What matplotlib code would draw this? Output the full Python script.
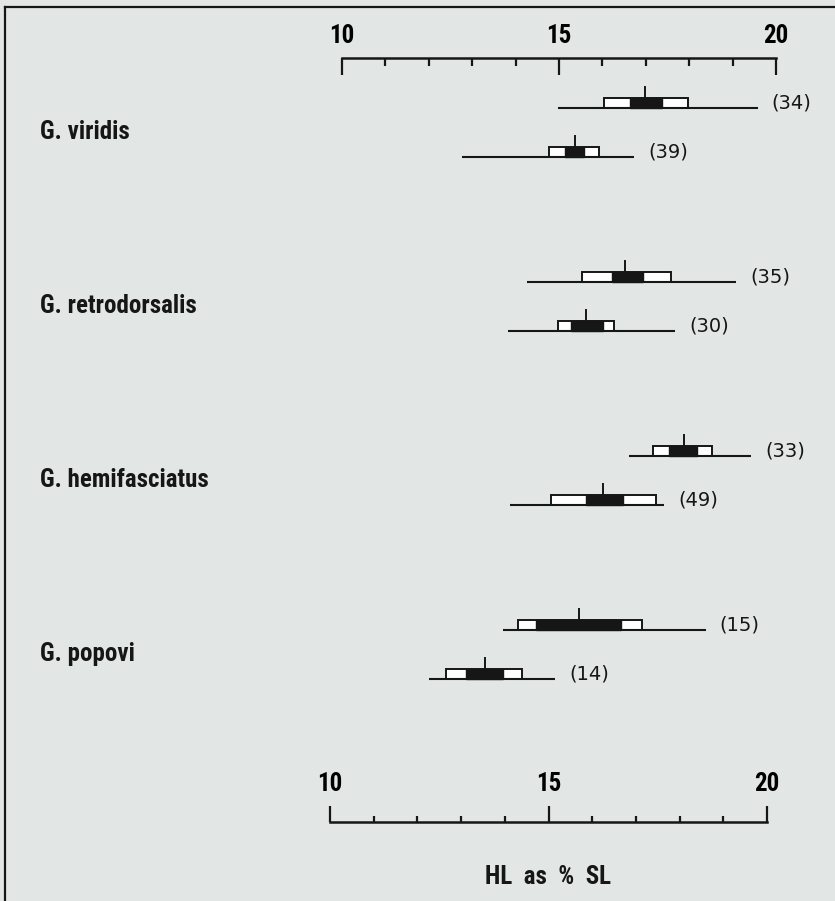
import matplotlib
matplotlib.use("Agg")
import matplotlib.pyplot as plt
from matplotlib import font_manager as fm
from matplotlib.patches import Rectangle
from matplotlib.ticker import MultipleLocator

# data: two samples per species (upper row, lower row)
species = ["G. viridis", "G. retrodorsalis", "G. hemifasciatus", "G. popovi"]
n_fish = [[34, 39], [35, 30], [33, 49], [15, 14]]
range_lo = [[15.0, 12.8], [14.35, 13.9], [16.75, 14.0], [13.9, 12.2]]
range_hi = [[19.6, 16.75], [19.15, 17.75], [19.55, 17.55], [18.55, 15.1]]
sd_lo = [[16.05, 14.8], [15.6, 15.05], [17.3, 14.95], [14.25, 12.6]]
sd_hi = [[18.0, 15.95], [17.65, 16.35], [18.65, 17.35], [17.1, 14.35]]
se_lo = [[16.65, 15.15], [16.3, 15.35], [17.65, 15.75], [14.65, 13.05]]
se_hi = [[17.4, 15.6], [17.0, 16.1], [18.3, 16.6], [16.6, 13.9]]
means = [[17.0, 15.4], [16.6, 15.7], [18.0, 16.15], [15.65, 13.5]]
ticks_major = [10, 15, 20]

W, H = 835, 901
BG = "#e2e7e5"
INK = "#161616"

# narrow bold face, the original lettering is condensed
names = {f.name for f in fm.fontManager.ttflist}
narrow = "DejaVu Sans"
for cand in ["Roboto Condensed", "Liberation Sans Narrow", "Open Sans Condensed"]:
    if cand in names:
        narrow = cand
        break
plt.rcParams["font.family"] = ["DejaVu Sans"]

fig = plt.figure(figsize=(W / 100, H / 100), dpi=100, facecolor=BG)


def px(x, y, w, h):
    # pixel box (top-left origin) -> figure fraction
    return [x / W, 1 - (y + h) / H, w / W, h / H]


# the scan is a little skewed: the lower ruler sits left of the upper one
top_x10, top_w, top_y = 342, 434, 58
bot_x10, bot_w, bot_y = 330, 437, 822


def ruler_at(y):
    t = (y - top_y) / (bot_y - top_y)
    return top_x10 + t * (bot_x10 - top_x10), top_w + t * (bot_w - top_w)


# frame (left and top only)
fig.add_artist(plt.Line2D([5 / W, 5 / W], [0, 1 - 7 / H], color=INK, lw=1.6))
fig.add_artist(plt.Line2D([5 / W, 1], [1 - 7 / H, 1 - 7 / H], color=INK, lw=1.6))

# upper ruler
axt = fig.add_axes(px(top_x10, top_y, top_w, 30))
axt.set_xlim(10, 20)
axt.set_ylim(0, 1)
axt.patch.set_visible(False)
for s in ["left", "right", "bottom"]:
    axt.spines[s].set_visible(False)
axt.spines["top"].set_linewidth(1.8)
axt.spines["top"].set_color(INK)
axt.set_yticks([])
axt.set_xticks(ticks_major)
axt.xaxis.set_minor_locator(MultipleLocator(1))
axt.tick_params(axis="x", which="both", bottom=False, labelbottom=False,
                top=True, labeltop=True, direction="in", color=INK, width=1.6)
axt.tick_params(axis="x", which="major", length=12.5, pad=7, labelsize=18)
axt.tick_params(axis="x", which="minor", length=5.5)
for lab in axt.get_xticklabels():
    lab.set_fontfamily(narrow)
    lab.set_fontweight("bold")

# lower ruler
axb = fig.add_axes(px(bot_x10, 797, bot_w, bot_y - 797))
axb.set_xlim(10, 20)
axb.set_ylim(0, 1)
axb.patch.set_visible(False)
for s in ["left", "right", "top"]:
    axb.spines[s].set_visible(False)
axb.spines["bottom"].set_linewidth(1.8)
axb.spines["bottom"].set_color(INK)
axb.set_yticks([])
axb.set_xticks(ticks_major)
axb.xaxis.set_minor_locator(MultipleLocator(1))
axb.tick_params(axis="x", which="both", bottom=True, labelbottom=False,
                top=False, labeltop=True, direction="in", color=INK, width=1.6)
axb.tick_params(axis="x", which="major", length=11.5, pad=1, labelsize=18)
axb.tick_params(axis="x", which="minor", length=4.5)
for lab in axb.get_xticklabels():
    lab.set_fontfamily(narrow)
    lab.set_fontweight("bold")
fig.text(548 / W, 1 - 877 / H, "HL  as  %  SL", ha="center", va="center",
         fontsize=18, fontweight="bold", family=narrow, color=INK)

# one axes per species band, following the skew of the rulers
band = 174
first_c = 131.6
row_off = [-24, 25]
box_h = 10
tick_h = 11

for i, sp in enumerate(species):
    yc = first_c + i * band
    x10, wid = ruler_at(yc)
    ax = fig.add_axes(px(x10, yc - band / 2, wid, band))
    ax.set_xlim(10, 20)
    ax.set_ylim(band / 2, -band / 2)
    ax.axis("off")
    for j in range(2):
        y = row_off[j]
        ax.plot([range_lo[i][j], range_hi[i][j]], [y, y], color=INK, lw=1.5,
                solid_capstyle="butt")
        ax.add_patch(Rectangle((sd_lo[i][j], y - box_h), sd_hi[i][j] - sd_lo[i][j], box_h,
                               facecolor="white", edgecolor=INK, lw=1.4))
        ax.add_patch(Rectangle((se_lo[i][j], y - box_h), se_hi[i][j] - se_lo[i][j], box_h,
                               facecolor=INK, edgecolor=INK, lw=1.0))
        ax.plot([means[i][j], means[i][j]], [y - box_h, y - box_h - tick_h],
                color=INK, lw=1.4)
        ax.annotate(f"({n_fish[i][j]})", (range_hi[i][j], y - box_h / 2),
                    xytext=(10, 0), textcoords="offset points", va="center",
                    ha="left", fontsize=14, color=INK, annotation_clip=False)
    fig.text(40 / W, 1 - yc / H, sp, ha="left", va="center", fontsize=18,
             fontweight="bold", family=narrow, color=INK)

fig.savefig("out.png", dpi=100, facecolor=BG)
